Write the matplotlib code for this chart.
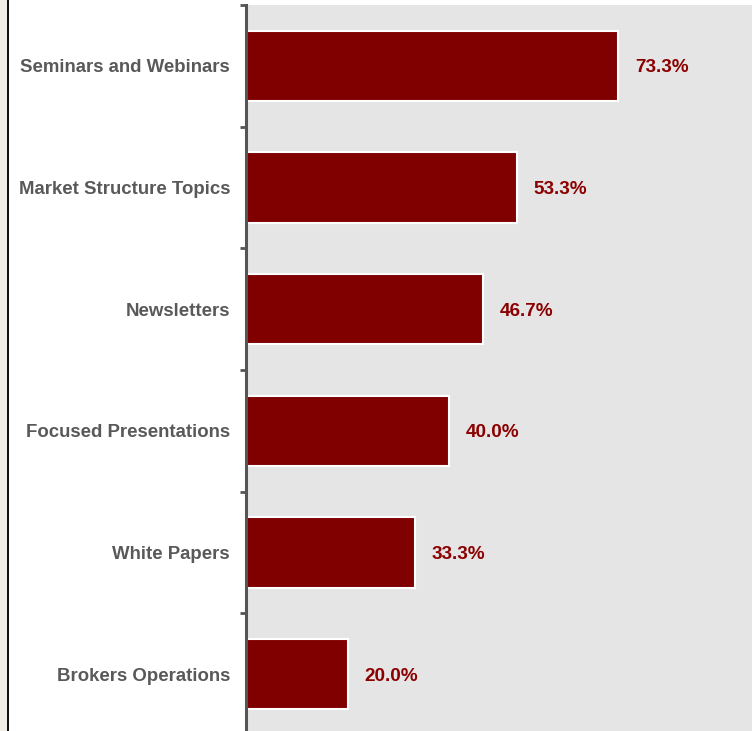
import matplotlib
matplotlib.use("Agg")
import matplotlib.pyplot as plt
from matplotlib.patches import Rectangle

# chart data
categories = ["Seminars and Webinars", "Market Structure Topics", "Newsletters",
              "Focused Presentations", "White Papers", "Brokers Operations"]
values = [73.3, 53.3, 46.7, 40.0, 33.3, 20.0]
value_labels = ["73.3%", "53.3%", "46.7%", "40.0%", "33.3%", "20.0%"]

plt.rcParams['font.family'] = ['Liberation Sans', 'DejaVu Sans']

fig = plt.figure(figsize=(7.52, 7.31), dpi=100)
fig.patch.set_facecolor("white")

# beige strip and black border on the left edge
fig.patches.append(Rectangle((0, 0), 7 / 752, 1, transform=fig.transFigure,
                             facecolor="#f0eee6", edgecolor="none", zorder=0))
fig.patches.append(Rectangle((7 / 752, 0), 2 / 752, 1, transform=fig.transFigure,
                             facecolor="#111111", edgecolor="none", zorder=1))

left = 246 / 752
bottom = -4 / 731
top = 1 - 5 / 731
ax = fig.add_axes([left, bottom, 508 / 752, top - bottom])
ax.set_facecolor("#e5e5e5")

pos = list(range(len(categories)))
ax.barh(pos, values, height=0.58, color="#800000", edgecolor="white", linewidth=1.5, zorder=2)

for p, v, lab in zip(pos, values, value_labels):
    ax.text(v + 3.3, p, lab, va="center_baseline", ha="left", fontsize=13.6,
            fontweight="bold", color="#8b0000")

ax.set_xlim(0, 100)
ax.set_ylim(len(categories) - 0.5, -0.5)

ax.set_yticks(pos)
ax.set_yticklabels(categories, fontsize=13.4, fontweight="bold", color="#595959",
                   va="center_baseline")
ax.tick_params(axis="y", which="major", length=0, pad=11.5)
ax.set_yticks([p - 0.5 for p in pos] + [len(pos) - 0.5], minor=True)
ax.tick_params(axis="y", which="minor", length=4, width=2, color="#555555", direction="out")
ax.set_xticks([])

for s in ["top", "right", "bottom"]:
    ax.spines[s].set_visible(False)
ax.spines["left"].set_color("#555555")
ax.spines["left"].set_linewidth(2.2)

fig.savefig("out.png", dpi=100)
